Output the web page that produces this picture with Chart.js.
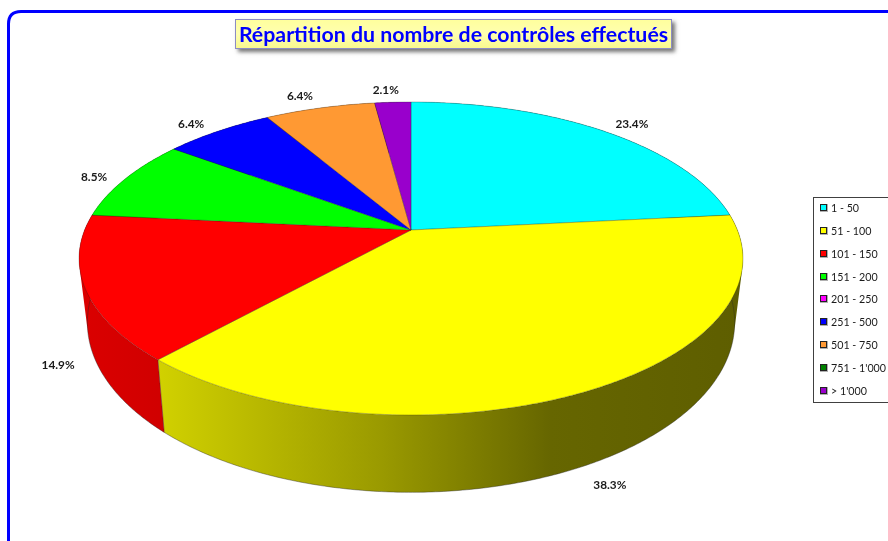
<!DOCTYPE html>
<html>
<head>
<meta charset="utf-8">
<style>
  html, body { margin: 0; padding: 0; background: #fff; overflow: hidden; }
  canvas { display: block; }
</style>
<script src="https://cdn.jsdelivr.net/npm/chart.js@4"></script>
</head>
<body>
<canvas id="pie" width="888" height="541"></canvas>
<script>
var chartTitle = 'Répartition du nombre de contrôles effectués';
var categories = ['1 - 50', '51 - 100', '101 - 150', '151 - 200', '201 - 250', '251 - 500', '501 - 750', "751 - 1'000", "> 1'000"];
var percents = [23.4, 38.3, 14.9, 8.5, 0, 6.4, 6.4, 0, 2.1];
var sliceColors = ['#00FFFF', '#FFFF00', '#FF0000', '#00FF00', '#FF00FF', '#0000FF', '#FF9933', '#008000', '#9900CC'];

// label offset from the rim point of each slice, by slice
var labelOffsets = [[28, -7], [23, 94], [-27, 77], [-31, -2], [0, 0], [-27, -7], [-20, -12], [0, 0], [-7, -12]];

// perspective used for the disc: apex, radii and tilt
var apexX = 411, apexY = 230, radX = 326.4, radY = 151.3, tilt = -0.182;

// map a unit circle point to the top face
function topPoint(angle) {
  var u = Math.cos(angle), v = Math.sin(angle);
  var w = 1 + tilt * v;
  return [apexX + radX * u / w, apexY + radY * v / w];
}

// same rim point on the lower edge of the wall
function lowPoint(p) {
  return [apexX + (p[0] - apexX) * 0.975, 258 + (p[1] - 258) * 1.085 + 64];
}

function rimAngles(arc) {
  var out = [];
  var steps = Math.max(2, Math.ceil((arc.endAngle - arc.startAngle) / 0.01));
  for (var i = 0; i <= steps; i++) {
    out.push(arc.startAngle + (arc.endAngle - arc.startAngle) * i / steps);
  }
  return out;
}

function shade(hex, f) {
  var n = parseInt(hex.slice(1), 16);
  return 'rgb(' + Math.round((n >> 16) * f) + ',' + Math.round(((n >> 8) & 255) * f) + ',' + Math.round((n & 255) * f) + ')';
}

function addQuad(ctx, q) {
  var area = 0;
  for (var i = 0; i < 4; i++) {
    var a = q[i], b = q[(i + 1) % 4];
    area += a[0] * b[1] - b[0] * a[1];
  }
  // keep every quad the same way round so the nonzero fill is their union
  if (area < 0) q = q.slice().reverse();
  ctx.moveTo(q[0][0], q[0][1]);
  ctx.lineTo(q[1][0], q[1][1]);
  ctx.lineTo(q[2][0], q[2][1]);
  ctx.lineTo(q[3][0], q[3][1]);
  ctx.closePath();
}

function drawWalls(ctx, arcs) {
  arcs.forEach(function(arc, i) {
    if (arc.endAngle - arc.startAngle <= 0) return;
    var grad = ctx.createLinearGradient(79, 0, 743, 0);
    grad.addColorStop(0, shade(sliceColors[i], 0.86));
    grad.addColorStop(0.12, shade(sliceColors[i], 0.82));
    grad.addColorStop(0.46, shade(sliceColors[i], 0.6));
    grad.addColorStop(0.71, shade(sliceColors[i], 0.4));
    grad.addColorStop(1, shade(sliceColors[i], 0.37));
    var top = rimAngles(arc).map(topPoint);
    var low = top.map(lowPoint);
    ctx.beginPath();
    for (var k = 0; k < top.length - 1; k++) {
      addQuad(ctx, [top[k], top[k + 1], low[k + 1], low[k]]);
    }
    ctx.fillStyle = grad;
    ctx.fill('nonzero');
    // lower edge, only the part facing the viewer
    ctx.beginPath();
    var started = false;
    rimAngles(arc).forEach(function(a, k) {
      if (Math.sin(a) < 0) { started = false; return; }
      if (!started) ctx.moveTo(low[k][0], low[k][1]); else ctx.lineTo(low[k][0], low[k][1]);
      started = true;
    });
    if (Math.sin(arc.startAngle) >= 0) {
      ctx.moveTo(top[0][0], top[0][1]);
      ctx.lineTo(low[0][0], low[0][1]);
    }
    ctx.lineWidth = 0.8;
    ctx.strokeStyle = 'rgba(40,40,40,0.5)';
    ctx.stroke();
  });
  // side silhouettes
  [Math.PI, 0].forEach(function(a) {
    var p = topPoint(a), q = lowPoint(p);
    ctx.beginPath();
    ctx.moveTo(p[0], p[1]);
    ctx.lineTo(q[0], q[1]);
    ctx.lineWidth = 0.8;
    ctx.strokeStyle = 'rgba(60,60,60,0.4)';
    ctx.stroke();
  });
}

function drawTop(ctx, arcs) {
  arcs.forEach(function(arc, i) {
    if (arc.endAngle - arc.startAngle <= 0) return;
    var top = rimAngles(arc).map(topPoint);
    ctx.beginPath();
    ctx.moveTo(apexX, apexY);
    top.forEach(function(p) { ctx.lineTo(p[0], p[1]); });
    ctx.closePath();
    ctx.fillStyle = sliceColors[i];
    ctx.fill();
    ctx.lineWidth = 0.7;
    ctx.strokeStyle = 'rgba(30,30,30,0.4)';
    ctx.stroke();
  });
}

function drawLabels(ctx, arcs) {
  ctx.font = 'bold 11.8px Lato';
  ctx.fillStyle = '#1a1a1a';
  ctx.textAlign = 'center';
  ctx.textBaseline = 'middle';
  arcs.forEach(function(arc, i) {
    if (percents[i] <= 0) return;
    var p = topPoint((arc.startAngle + arc.endAngle) / 2);
    ctx.fillText(percents[i].toFixed(1) + '%', p[0] + labelOffsets[i][0], p[1] + labelOffsets[i][1]);
  });
}

function drawFrame(ctx) {
  ctx.beginPath();
  ctx.moveTo(8.5, 545);
  ctx.lineTo(8.5, 24);
  ctx.quadraticCurveTo(8.5, 11.5, 21, 11.5);
  ctx.lineTo(892, 11.5);
  ctx.lineWidth = 3;
  ctx.strokeStyle = '#0000FF';
  ctx.stroke();
}

function drawTitle(ctx) {
  ctx.save();
  ctx.shadowColor = 'rgba(60,60,60,0.7)';
  ctx.shadowBlur = 4;
  ctx.shadowOffsetX = 3;
  ctx.shadowOffsetY = 3;
  var grad = ctx.createLinearGradient(0, 19, 0, 49);
  grad.addColorStop(0, '#FFFF9C');
  grad.addColorStop(0.5, '#FFFFB0');
  grad.addColorStop(1, '#F8F88C');
  ctx.fillStyle = grad;
  ctx.fillRect(235, 19, 437, 30);
  ctx.restore();
  ctx.lineWidth = 1;
  ctx.strokeStyle = '#8C8CC4';
  ctx.strokeRect(235.5, 19.5, 436, 29);
  ctx.font = 'bold 21.3px Lato';
  ctx.fillStyle = '#0000FF';
  ctx.textAlign = 'center';
  ctx.textBaseline = 'middle';
  ctx.fillText(chartTitle, 453.5, 35);
}

function drawLegend(ctx) {
  ctx.fillStyle = '#fff';
  ctx.fillRect(813.5, 197.5, 80, 205);
  ctx.lineWidth = 1;
  ctx.strokeStyle = '#404040';
  ctx.strokeRect(813.5, 197.5, 80, 205);
  ctx.font = '10.7px Lato';
  ctx.textAlign = 'left';
  ctx.textBaseline = 'middle';
  categories.forEach(function(name, i) {
    var y = Math.round(208 + i * 22.85);
    ctx.fillStyle = '#b0b0b0';
    ctx.fillRect(820, y - 4, 8, 8);
    ctx.fillStyle = sliceColors[i];
    ctx.fillRect(820, y - 4, 7, 7);
    ctx.lineWidth = 1;
    ctx.strokeStyle = '#222';
    ctx.strokeRect(820.5, y - 3.5, 6, 6);
    ctx.fillStyle = '#1a1a1a';
    ctx.fillText(name, 831, y + 1);
  });
}

var perspectivePie = {
  id: 'perspectivePie',
  beforeDatasetsDraw: function(chart) {
    var ctx = chart.ctx;
    var arcs = chart.getDatasetMeta(0).data;
    drawFrame(ctx);
    drawTitle(ctx);
    drawWalls(ctx, arcs);
    drawTop(ctx, arcs);
    drawLabels(ctx, arcs);
    drawLegend(ctx);
    return false;
  }
};

new Chart(document.getElementById('pie'), {
  type: 'pie',
  data: {
    labels: categories,
    datasets: [{ data: percents, backgroundColor: sliceColors }]
  },
  options: {
    responsive: false,
    animation: false,
    plugins: {
      legend: { display: false },
      title: { display: false },
      tooltip: { enabled: false }
    }
  },
  plugins: [perspectivePie]
});
</script>
</body>
</html>
